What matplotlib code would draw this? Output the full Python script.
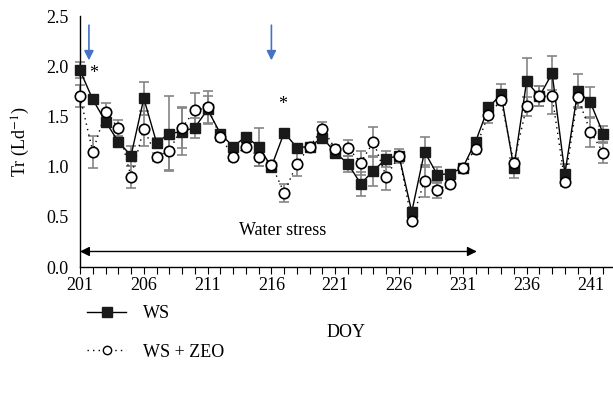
import numpy as np
import matplotlib
matplotlib.use("Agg")
import matplotlib.pyplot as plt

plt.rcParams['font.family'] = ['Liberation Serif', 'DejaVu Serif']
plt.rcParams['mathtext.fontset'] = 'stix'

doy = np.arange(201, 243)

ws = [1.96, 1.67, 1.45, 1.25, 1.11, 1.68, 1.24, 1.33, 1.35, 1.39,
      1.57, 1.33, 1.20, 1.30, 1.20, 1.00, 1.34, 1.19, 1.20, 1.29,
      1.14, 1.03, 0.83, 0.96, 1.08, 1.11, 0.55, 1.15, 0.92, 0.93,
      0.99, 1.25, 1.59, 1.72, 0.99, 1.85, 1.70, 1.93, 0.93, 1.75,
      1.64, 1.33]
ws_err = [0.08, 0.03, 0.05, 0.05, 0.10, 0.16, 0.05, 0.37, 0.23, 0.10,
          0.13, 0.04, 0.03, 0.04, 0.19, 0.03, 0.03, 0.04, 0.03, 0.04,
          0.04, 0.08, 0.12, 0.15, 0.08, 0.07, 0.03, 0.15, 0.08, 0.04,
          0.03, 0.04, 0.04, 0.10, 0.10, 0.23, 0.10, 0.17, 0.10, 0.17,
          0.15, 0.08]

zeo = [1.70, 1.15, 1.54, 1.39, 0.90, 1.38, 1.10, 1.16, 1.39, 1.56,
       1.59, 1.30, 1.10, 1.20, 1.10, 1.02, 0.74, 1.03, 1.20, 1.38,
       1.18, 1.19, 1.04, 1.25, 0.90, 1.11, 0.46, 0.86, 0.77, 0.83,
       0.99, 1.18, 1.52, 1.66, 1.04, 1.60, 1.70, 1.70, 0.85, 1.69,
       1.35, 1.14]
zeo_err = [0.11, 0.16, 0.09, 0.08, 0.11, 0.17, 0.04, 0.19, 0.20, 0.17,
           0.16, 0.04, 0.04, 0.04, 0.09, 0.04, 0.09, 0.12, 0.04, 0.07,
           0.04, 0.08, 0.12, 0.15, 0.13, 0.04, 0.03, 0.16, 0.08, 0.04,
           0.04, 0.05, 0.08, 0.05, 0.05, 0.09, 0.10, 0.17, 0.04, 0.10,
           0.15, 0.10]

star_days = [202.1, 216.9]
star_vals = [1.93, 1.62]
arrow_days = [201.7, 216.0]
stress_start, stress_end = 201, 232.1

fs = 13

fig = plt.figure(figsize=(6.13, 4.04), dpi=100)
ax = fig.add_axes([0.1305, 0.339, 0.8695, 0.621])

ax.errorbar(doy, zeo, yerr=zeo_err, fmt='none', ecolor='#858585',
            elinewidth=1.2, capsize=3.5, capthick=1.2, zorder=1, clip_on=False)
ax.errorbar(doy, ws, yerr=ws_err, fmt='none', ecolor='#858585',
            elinewidth=1.2, capsize=3.5, capthick=1.2, zorder=1, clip_on=False)
ax.plot(doy, zeo, linestyle=(0, (1, 3)), color='black', linewidth=1,
        zorder=2, clip_on=False)
ax.plot(doy, ws, linestyle='-', color='black', linewidth=1,
        marker='s', markersize=7.5, markerfacecolor='#1a1a1a',
        markeredgecolor='#1a1a1a', zorder=3, clip_on=False)
ax.plot(doy, zeo, linestyle='none', marker='o', markersize=7.5,
        markerfacecolor='white', markeredgecolor='black',
        markeredgewidth=1.2, zorder=4, clip_on=False)

for d, v in zip(star_days, star_vals):
    ax.text(d, v, '*', fontsize=13, ha='center', va='center')

for d in arrow_days:
    ax.annotate('', xy=(d, 2.06), xytext=(d, 2.41),
                arrowprops=dict(arrowstyle='-|>', color='#4472c4', lw=1.2,
                                mutation_scale=14, shrinkA=0, shrinkB=0))

ax.annotate('', xy=(stress_start, 0.155), xytext=(stress_end, 0.155),
            arrowprops=dict(arrowstyle='<|-|>', color='black', lw=1,
                            mutation_scale=14, shrinkA=0, shrinkB=0))
ax.text((stress_start + stress_end) / 2 + 0.3, 0.365, 'Water stress',
        fontsize=fs, ha='center', va='center')

ax.set_xlim(201, 242.77)
ax.set_ylim(0, 2.5)
ax.set_xticks(np.arange(201, 243, 5))
ax.set_xticks(np.arange(201, 243, 1), minor=True)
ax.set_yticks([0, 0.5, 1.0, 1.5, 2.0, 2.5])
ax.set_yticklabels(['0.0', '0.5', '1.0', '1.5', '2.0', '2.5'])
ax.tick_params(axis='x', which='both', direction='out', length=5, width=0.8,
               labelsize=fs, pad=2)
ax.tick_params(axis='y', length=0, labelsize=fs, pad=8)
ax.spines['top'].set_visible(False)
ax.spines['right'].set_visible(False)
ax.spines['left'].set_linewidth(1)
ax.spines['bottom'].set_linewidth(1)
ax.set_xlabel('DOY', fontsize=fs, labelpad=22)
ax.set_ylabel('Tr (Ld$^{-1}$)', fontsize=fs, labelpad=10)

h1, = ax.plot([], [], linestyle='-', color='black', linewidth=1, marker='s',
              markersize=7, markerfacecolor='#1a1a1a', markeredgecolor='#1a1a1a')
h2, = ax.plot([], [], linestyle=(0, (1, 3)), color='black', linewidth=1,
              marker='o', markersize=6, markerfacecolor='white',
              markeredgecolor='black')
fig.legend([h1, h2], ['WS', 'WS + ZEO'], loc='upper left',
           bbox_to_anchor=(0.115, 0.285), frameon=False, fontsize=fs,
           handlelength=2.2, labelspacing=1.2, handletextpad=0.9)

fig.savefig('out.png', dpi=100)
